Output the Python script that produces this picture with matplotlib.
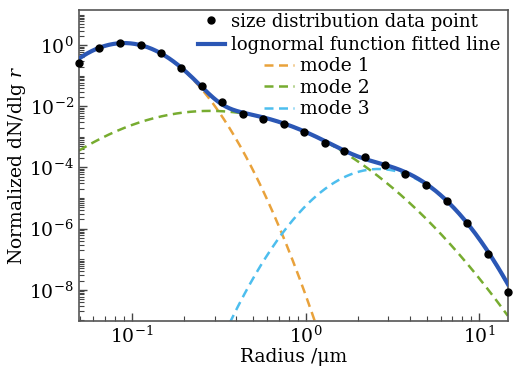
import numpy as np
import matplotlib
matplotlib.use("Agg")
import matplotlib.pyplot as plt
from matplotlib.ticker import LogLocator, FixedLocator, NullFormatter
from matplotlib.lines import Line2D

plt.rcParams["font.family"] = ["DejaVu Serif"]
plt.rcParams["mathtext.fontset"] = "dejavuserif"

# measured size distribution (radius in um, normalized dN/dlg r)
radius = [0.0495, 0.0646, 0.0853, 0.1127, 0.147, 0.191, 0.252, 0.329, 0.435,
          0.566, 0.748, 0.975, 1.29, 1.67, 2.21, 2.88, 3.76, 4.95, 6.55,
          8.53, 11.27, 14.6]
dn_dlgr = [0.264, 0.798, 1.14, 1.0, 0.537, 0.174, 0.0457, 0.0135, 5.56e-3,
           3.8e-3, 2.57e-3, 1.41e-3, 6.17e-4, 3.47e-4, 2.14e-4, 1.2e-4,
           6.03e-5, 2.63e-5, 7.9e-6, 1.48e-6, 1.48e-7, 8.7e-9]

# lognormal mode parameters
mode_labels = ["mode 1", "mode 2", "mode 3"]
mode_median = [0.0902, 0.282, 2.63]        # um
mode_peak = [1.17, 7.08e-3, 8.9e-5]
mode_gsd = [1.478, 2.035, 1.506]
mode_colors = ["#E9A23B", "#77AC30", "#4DBEEE"]

fit_color = "#2B57B5"
dash = (0, (3.6, 2.2))

r = np.logspace(np.log10(0.0495), np.log10(14.6), 400)
modes = [p * np.exp(-(np.log(r / m)) ** 2 / (2 * np.log(g) ** 2))
         for m, p, g in zip(mode_median, mode_peak, mode_gsd)]
fit = np.sum(modes, axis=0)

fig = plt.figure(figsize=(5.15, 3.75), dpi=100)
ax = fig.add_axes([0.153, 0.144, 0.833, 0.829])

ax.plot(r, fit, color=fit_color, lw=3, zorder=3)
for y, c in zip(modes, mode_colors):
    ax.plot(r, y, color=c, lw=1.8, ls=dash, zorder=2)
ax.plot(radius, dn_dlgr, "o", color="black", ms=5, zorder=4, clip_on=False)

ax.set_xscale("log")
ax.set_yscale("log")
ax.set_xlim(0.0495, 14.6)
ax.set_ylim(0.95e-9, 14)

ax.yaxis.set_major_locator(FixedLocator([1e-8, 1e-6, 1e-4, 1e-2, 1]))
ax.yaxis.set_minor_locator(LogLocator(base=10, subs=np.arange(1, 10), numticks=100))
ax.yaxis.set_minor_formatter(NullFormatter())
ax.xaxis.set_minor_locator(LogLocator(base=10, subs=np.arange(2, 10), numticks=100))
ax.xaxis.set_minor_formatter(NullFormatter())

ax.tick_params(which="both", direction="in", top=False, right=False,
               colors="#444444", labelcolor="black", labelsize=13.5)
ax.tick_params(which="major", length=6, width=1)
ax.tick_params(which="minor", length=3.5, width=0.8)
for s in ax.spines.values():
    s.set_color("#555555")
    s.set_linewidth(1.2)

ax.set_xlabel("Radius /μm", fontsize=13.5, labelpad=1)
ax.set_ylabel("Normalized dN/dlg $r$", fontsize=13.5, labelpad=1)

h1 = [Line2D([], [], ls="none", marker="o", color="black", ms=5),
      Line2D([], [], color=fit_color, lw=3)]
leg1 = ax.legend(h1, ["size distribution data point", "lognormal function fitted line"],
                 loc="upper right", bbox_to_anchor=(1.0, 1.015), frameon=False,
                 fontsize=13, handlelength=1.5, handletextpad=0.35,
                 labelspacing=0.3, borderaxespad=0.0)
ax.add_artist(leg1)
h2 = [Line2D([], [], color=c, lw=1.8, ls=dash) for c in mode_colors]
ax.legend(h2, mode_labels, loc="upper left", bbox_to_anchor=(0.415, 0.872),
          frameon=False, fontsize=13.5, handlelength=1.6, handletextpad=0.3,
          labelspacing=0.18, borderaxespad=0.0)

fig.savefig("out.png", dpi=100)
